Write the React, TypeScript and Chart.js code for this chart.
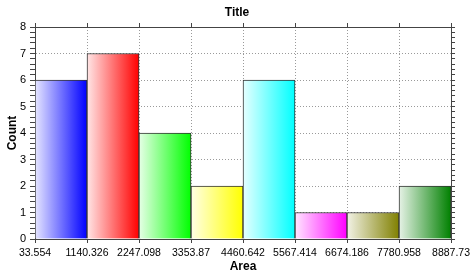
import React, { useEffect, useRef } from 'react';
import { Chart, registerables } from 'chart.js';

Chart.register(...registerables);

const binEdges = [33.554, 1140.326, 2247.098, 3353.87, 4460.642, 5567.414, 6674.186, 7780.958, 8887.73];
const edgeLabels = ['33.554', '1140.326', '2247.098', '3353.87', '4460.642', '5567.414', '6674.186', '7780.958', '8887.73'];
const counts = [6, 7, 4, 2, 6, 1, 1, 2];
const barColors = ['#0000ff', '#ff0000', '#00ff00', '#ffff00', '#00ffff', '#ff00ff', '#808000', '#008000'];

const chartTitle = 'Title';
const xTitle = 'Area';
const yTitle = 'Count';

function tint(hex: string, f: number): string {
  const r = parseInt(hex.slice(1, 3), 16);
  const g = parseInt(hex.slice(3, 5), 16);
  const b = parseInt(hex.slice(5, 7), 16);
  const m = (c: number) => Math.round(c + (255 - c) * f);
  return `rgb(${m(r)},${m(g)},${m(b)})`;
}

const isInt = (v: number) => Math.abs(v - Math.round(v)) < 1e-6;

export default function App() {
  const ref = useRef<HTMLCanvasElement | null>(null);

  useEffect(() => {
    if (!ref.current) return;
    Chart.defaults.font.family = "'Liberation Sans', Arial, sans-serif";
    Chart.defaults.color = '#000';

    const data = counts.map((c, i) => ({ x: (binEdges[i] + binEdges[i + 1]) / 2, y: c }));

    const setEdgeTicks = (scale: any) => {
      scale.ticks = binEdges.map((v) => ({ value: v }));
    };

    const chart = new Chart(ref.current, {
      type: 'bar',
      data: {
        datasets: [
          {
            data: data as any,
            barPercentage: 1,
            categoryPercentage: 1,
            borderColor: '#333',
            borderWidth: 1,
            backgroundColor: (ctx: any) => {
              const i = ctx.dataIndex;
              if (i === undefined) return barColors[0];
              const xs = ctx.chart.scales?.x;
              if (!xs) return barColors[i];
              const x0 = xs.getPixelForValue(binEdges[i]);
              const x1 = xs.getPixelForValue(binEdges[i + 1]);
              if (!isFinite(x0) || !isFinite(x1)) return barColors[i];
              const g = ctx.chart.ctx.createLinearGradient(x0, 0, x1, 0);
              g.addColorStop(0, tint(barColors[i], 0.9));
              g.addColorStop(1, barColors[i]);
              return g;
            },
          },
        ],
      },
      options: {
        animation: false,
        responsive: false,
        devicePixelRatio: 1,
        layout: { padding: 0 },
        plugins: {
          legend: { display: false },
          tooltip: { enabled: false },
          title: {
            display: true,
            text: chartTitle,
            color: '#000',
            font: { size: 12, weight: 'bold' },
            padding: { top: 5, bottom: 4 },
          },
        },
        scales: {
          x: {
            type: 'linear',
            position: 'bottom',
            min: binEdges[0],
            max: binEdges[binEdges.length - 1],
            offset: false,
            afterBuildTicks: setEdgeTicks,
            afterFit: (s: any) => {
              s.height = 41;
            },
            ticks: {
              autoSkip: false,
              maxRotation: 0,
              padding: 4,
              color: '#000',
              font: { size: 10.5 },
              callback: (_v: any, i: number) => edgeLabels[i],
            },
            grid: {
              offset: false,
              color: '#9a9a9a',
              tickColor: '#444',
              tickLength: 4,
              tickWidth: 1,
            },
            border: { color: '#444', dash: [1, 2] },
            title: {
              display: true,
              text: xTitle,
              color: '#000',
              font: { size: 12, weight: 'bold' },
              padding: { top: 0, bottom: 6 },
            },
          },
          x2: {
            type: 'linear',
            position: 'top',
            min: binEdges[0],
            max: binEdges[binEdges.length - 1],
            offset: false,
            afterBuildTicks: setEdgeTicks,
            afterFit: (s: any) => {
              s.height = 3.6;
            },
            ticks: { display: false },
            grid: {
              offset: false,
              drawOnChartArea: false,
              tickColor: '#444',
              tickLength: 4,
            },
            border: { color: '#444' },
          },
          y: {
            type: 'linear',
            position: 'left',
            min: 0,
            max: 8,
            afterFit: (s: any) => {
              s.width = 35;
            },
            ticks: {
              stepSize: 0.2,
              maxTicksLimit: 100,
              autoSkip: false,
              padding: 4,
              color: '#000',
              font: { size: 11 },
              callback: (v: any) => (isInt(Number(v)) ? String(Math.round(Number(v))) : ''),
            },
            grid: {
              color: (ctx: any) => (ctx.tick && isInt(ctx.tick.value) && ctx.tick.value > 0 ? '#9a9a9a' : 'rgba(0,0,0,0)'),
              tickColor: '#444',
              tickLength: 5,
              tickWidth: 1,
            },
            border: { color: '#444', dash: [1, 2] },
            title: {
              display: true,
              text: yTitle,
              color: '#000',
              font: { size: 12, weight: 'bold' },
              padding: { top: 5, bottom: 0 },
            },
          },
          y2: {
            type: 'linear',
            position: 'right',
            min: 0,
            max: 8,
            afterFit: (s: any) => {
              s.width = 22;
            },
            ticks: { display: false, stepSize: 0.2, maxTicksLimit: 100 },
            grid: {
              drawOnChartArea: false,
              tickColor: '#444',
              tickLength: 4,
            },
            border: { color: '#444' },
          },
        },
      } as any,
    });

    return () => chart.destroy();
  }, []);

  return (
    <div style={{ position: 'fixed', left: 0, top: 0, width: 474, height: 280, background: '#fff' }}>
      <canvas ref={ref} width={474} height={280} style={{ display: 'block', width: 474, height: 280 }} />
    </div>
  );
}
